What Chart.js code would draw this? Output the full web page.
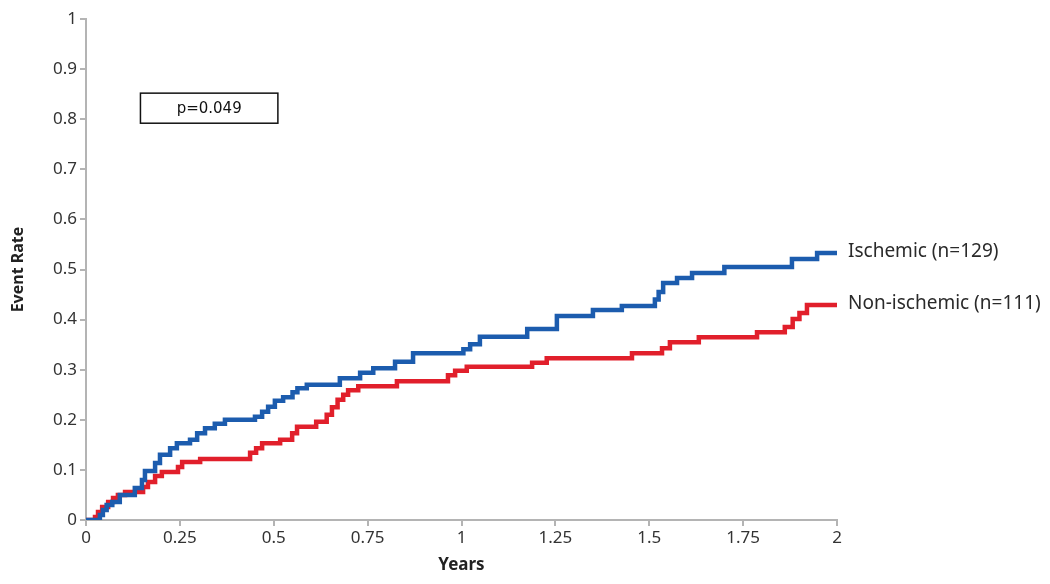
<!DOCTYPE html>
<html>
<head>
<meta charset="utf-8">
<script src="https://cdn.jsdelivr.net/npm/chart.js@4/dist/chart.umd.min.js"></script>
<style>
  html, body { margin: 0; padding: 0; background: #fff; }
  canvas { display: block; }
</style>
</head>
<body>
<canvas id="kmChart" width="1050" height="584"></canvas>
<script>
'use strict';

// Ischemic (n=129) - step times (years) and cumulative event rate
const ischemicT = [0, 0.037, 0.045, 0.055, 0.07, 0.09, 0.13, 0.149, 0.157, 0.184, 0.197, 0.224, 0.242,
  0.277, 0.296, 0.317, 0.343, 0.37, 0.45, 0.469, 0.485, 0.503, 0.525, 0.55, 0.563, 0.588, 0.676, 0.73,
  0.765, 0.823, 0.871, 1.005, 1.023, 1.049, 1.175, 1.254, 1.35, 1.427, 1.515, 1.525, 1.537, 1.574,
  1.614, 1.70, 1.88, 1.947, 2.0];
const ischemicRate = [0, 0.01, 0.02, 0.03, 0.036, 0.05, 0.064, 0.08, 0.098, 0.114, 0.13, 0.143, 0.153,
  0.16, 0.173, 0.183, 0.192, 0.2, 0.206, 0.216, 0.226, 0.238, 0.245, 0.255, 0.263, 0.27, 0.283, 0.294,
  0.303, 0.316, 0.333, 0.341, 0.351, 0.366, 0.381, 0.407, 0.419, 0.427, 0.44, 0.455, 0.473, 0.483,
  0.493, 0.505, 0.521, 0.533, 0.533];

// Non-ischemic (n=111)
const nonIschemicT = [0, 0.024, 0.032, 0.043, 0.059, 0.072, 0.085, 0.104, 0.152, 0.165, 0.184, 0.202,
  0.245, 0.256, 0.304, 0.437, 0.453, 0.469, 0.517, 0.549, 0.562, 0.613, 0.641, 0.655, 0.67, 0.685,
  0.698, 0.725, 0.828, 0.964, 0.983, 1.014, 1.188, 1.227, 1.454, 1.534, 1.555, 1.632, 1.787, 1.861,
  1.882, 1.90, 1.92, 2.0];
const nonIschemicRate = [0, 0.006, 0.016, 0.026, 0.036, 0.044, 0.05, 0.056, 0.066, 0.076, 0.088, 0.096,
  0.106, 0.116, 0.122, 0.134, 0.143, 0.153, 0.16, 0.173, 0.186, 0.196, 0.21, 0.225, 0.24, 0.25,
  0.259, 0.267, 0.277, 0.289, 0.298, 0.306, 0.314, 0.323, 0.333, 0.343, 0.355, 0.365, 0.375, 0.385,
  0.401, 0.413, 0.429, 0.429];

const seriesLabels = ['Ischemic (n=129)', 'Non-ischemic (n=111)'];
const seriesColors = ['#1c5cae', '#e11f2b'];
const pValueText = 'p=0.049';

const FONT = "'Noto Sans', 'Open Sans', sans-serif";
const AXIS_GREY = '#b4b4b4';

const toPoints = (xs, ys) => xs.map((x, i) => ({ x, y: ys[i] }));

// 오른쪽 끝 라벨 + p-value 박스
const annotations = {
  id: 'annotations',
  afterDatasetsDraw(chart) {
    const { ctx, chartArea, scales } = chart;
    ctx.save();
    ctx.font = `19px ${FONT}`;
    ctx.fillStyle = '#2a2a2a';
    ctx.textBaseline = 'middle';
    ctx.textAlign = 'left';
    chart.data.datasets.forEach((ds, i) => {
      const last = ds.data[ds.data.length - 1];
      ctx.fillText(seriesLabels[i], chartArea.right + 11, scales.y.getPixelForValue(last.y) - 1);
    });

    // p-value box
    const x0 = scales.x.getPixelForValue(0.145), x1 = scales.x.getPixelForValue(0.511);
    const y0 = scales.y.getPixelForValue(0.852), y1 = scales.y.getPixelForValue(0.792);
    ctx.strokeStyle = '#111';
    ctx.lineWidth = 1.5;
    ctx.strokeRect(x0, y0, x1 - x0, y1 - y0);
    ctx.font = `15px 'DejaVu Sans', sans-serif`;
    ctx.fillStyle = '#111';
    ctx.textAlign = 'center';
    ctx.fillText(pValueText, (x0 + x1) / 2, (y0 + y1) / 2 + 1);
    ctx.restore();
  }
};

const lineStyle = color => ({
  borderColor: color,
  backgroundColor: color,
  borderWidth: 4.5,
  pointRadius: 0,
  stepped: true,
  fill: false
});

new Chart(document.getElementById('kmChart'), {
  type: 'line',
  data: {
    datasets: [
      { label: seriesLabels[0], data: toPoints(ischemicT, ischemicRate), ...lineStyle(seriesColors[0]) },
      { label: seriesLabels[1], data: toPoints(nonIschemicT, nonIschemicRate), ...lineStyle(seriesColors[1]) }
    ]
  },
  options: {
    responsive: false,
    animation: false,
    layout: { padding: { left: 0, right: 213, top: 19, bottom: 0 } },
    scales: {
      x: {
        type: 'linear',
        min: 0, max: 2,
        afterFit: s => { s.height = 64; },
        ticks: { stepSize: 0.25, color: '#333', padding: 2, font: { family: FONT, size: 17 },
          callback: v => String(+v.toFixed(2)) },
        grid: { drawOnChartArea: false, drawTicks: true, tickLength: 6, color: AXIS_GREY, lineWidth: 2 },
        border: { color: AXIS_GREY, width: 2 },
        title: { display: true, text: 'Years', color: '#222', padding: 9,
          font: { family: FONT, size: 17, weight: 'bold' } }
      },
      y: {
        min: 0, max: 1,
        afterFit: s => { s.width = 86; },
        ticks: { stepSize: 0.1, color: '#333', padding: 3, font: { family: FONT, size: 17 },
          callback: v => String(+v.toFixed(1)) },
        grid: { drawOnChartArea: false, drawTicks: true, tickLength: 6, color: AXIS_GREY, lineWidth: 2 },
        border: { color: AXIS_GREY, width: 2 },
        title: { display: true, text: 'Event Rate', color: '#222', padding: 9,
          font: { family: FONT, size: 16, weight: 'bold' } }
      }
    },
    plugins: {
      legend: { display: false },
      tooltip: { enabled: false }
    }
  },
  plugins: [annotations]
});
</script>
</body>
</html>
